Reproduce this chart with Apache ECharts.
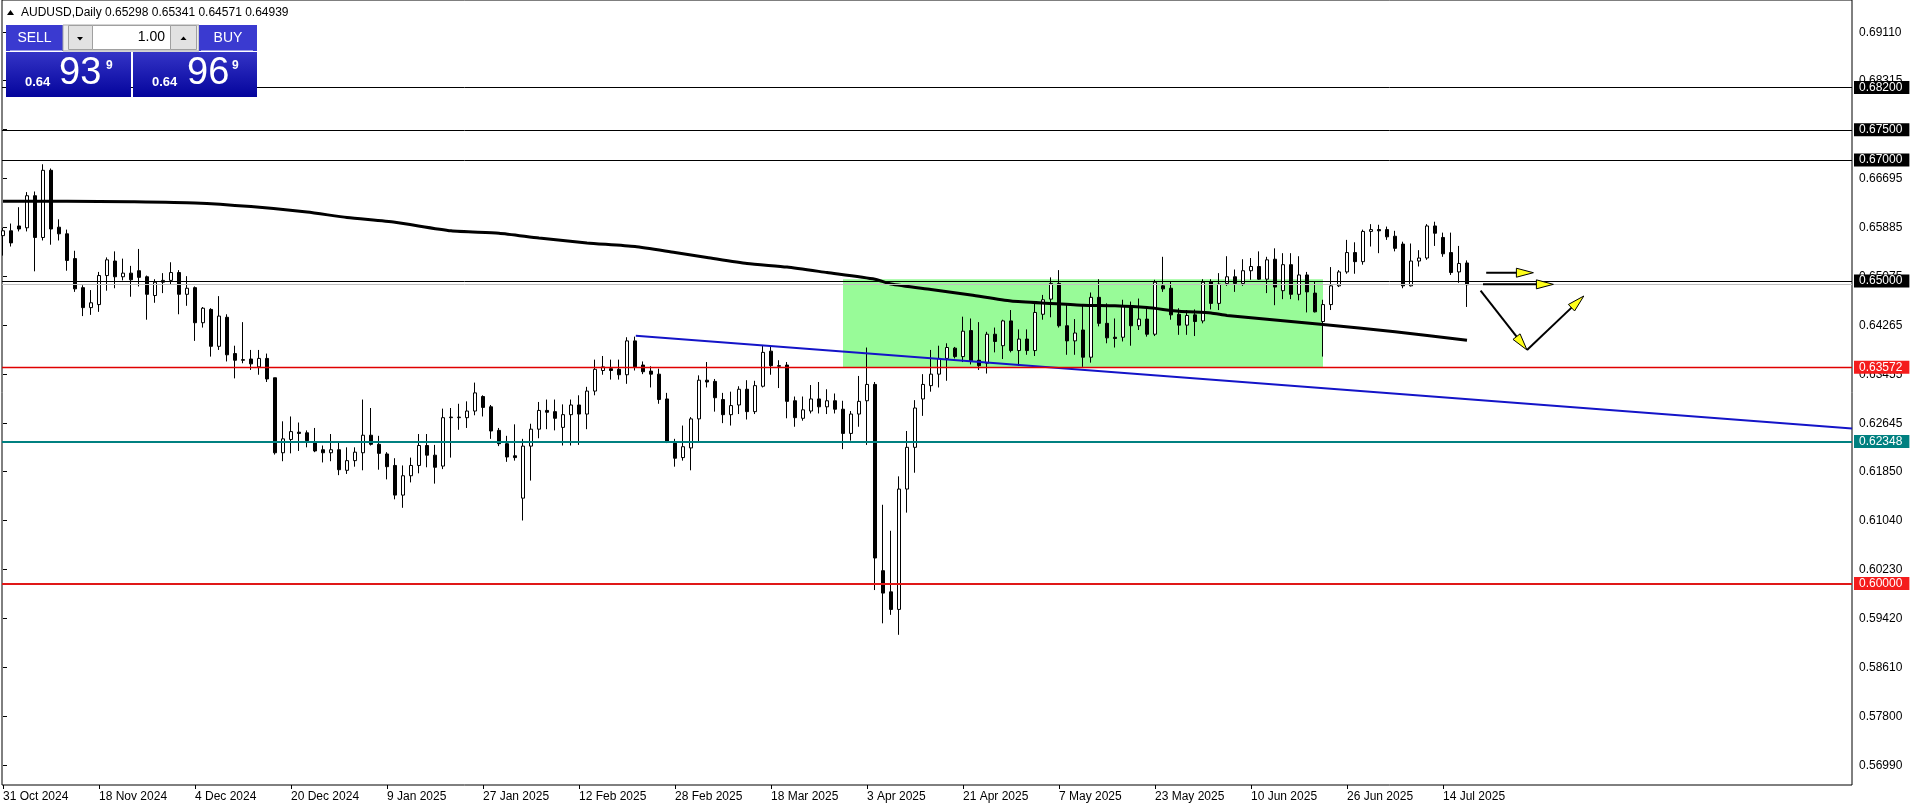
<!DOCTYPE html>
<html>
<head>
<meta charset="utf-8">
<script src="https://cdn.jsdelivr.net/npm/echarts@6/dist/echarts.min.js"></script>
<style>
html,body{margin:0;padding:0;background:#fff;}
#c{width:1916px;height:809px;}
</style>
</head>
<body>
<div id="c"></div>
<script>
// ---------------- DATA ----------------
const symbolName = 'AUDUSD';
const periodName = 'Daily';

const opens = [
0.6575,0.6583,0.6591,0.6588,0.6641,0.6572,0.6683,0.6589,0.6578,0.6537,
0.6489,0.6456,0.6461,0.6509,0.6533,0.6507,0.6513,0.6517,0.6507,0.6476,
0.6498,0.6501,0.6514,0.6478,0.6489,0.6431,0.6453,0.6392,0.6440,0.6380,
0.6370,0.6371,0.6358,0.6372,0.6340,0.6216,0.6238,0.6250,0.6249,0.6233,
0.6221,0.6216,0.6221,0.6187,0.6203,0.6216,0.6245,0.6230,0.6214,0.6195,
0.6146,0.6178,0.6195,0.6228,0.6212,0.6194,0.6274,0.6274,0.6274,0.6285,
0.6309,0.6292,0.6253,0.6231,0.6211,0.6141,0.6227,0.6255,0.6286,0.6284,
0.6258,0.6279,0.6295,0.6280,0.6318,0.6352,0.6355,0.6354,0.6345,0.6401,
0.6361,0.6351,0.6346,0.6305,0.6232,0.6208,0.6224,0.6272,0.6336,0.6334,
0.6304,0.6279,0.6295,0.6321,0.6284,0.6326,0.6384,0.6360,0.6361,0.6302,
0.6273,0.6285,0.6305,0.6292,0.6302,0.6288,0.6248,0.6280,0.6302,0.6329,
0.6021,0.5986,0.5957,0.6156,0.6225,0.6305,0.6327,0.6346,0.6372,0.6389,
0.6375,0.6418,0.6369,0.6364,0.6412,0.6393,0.6434,0.6385,0.6404,0.6385,
0.6445,0.6470,0.6496,0.6426,0.6401,0.6419,0.6374,0.6473,0.6430,0.6407,
0.6407,0.6459,0.6426,0.6437,0.6412,0.6492,0.6488,0.6445,0.6427,0.6444,
0.6434,0.6499,0.6463,0.6496,0.6507,0.6496,0.6517,0.6524,0.6503,0.6536,
0.6484,0.6527,0.6478,0.6510,0.6480,0.6433,0.6461,0.6492,0.6515,0.6547,
0.6532,0.6582,0.6585,0.6585,0.6574,0.6561,0.6492,0.6533,0.6538,0.6591,
0.6572,0.6547,0.6515,0.65298];
const closes = [
0.6583,0.6563,0.6586,0.6641,0.6572,0.6683,0.6586,0.6578,0.6534,0.6487,
0.6456,0.6464,0.6509,0.6535,0.6507,0.6513,0.6502,0.6506,0.6478,0.6498,
0.6501,0.6514,0.6478,0.6488,0.6431,0.6455,0.6392,0.6442,0.6378,0.6369,
0.6369,0.6363,0.6372,0.6338,0.6216,0.6239,0.6251,0.6248,0.6236,0.6219,
0.6216,0.6221,0.6188,0.6203,0.6217,0.6245,0.6230,0.6215,0.6193,0.6146,
0.6178,0.6195,0.6228,0.6212,0.6192,0.6274,0.6275,0.6275,0.6285,0.6315,
0.6291,0.6252,0.6231,0.6209,0.6208,0.6227,0.6255,0.6286,0.6283,0.6273,
0.6279,0.6295,0.6280,0.6318,0.6354,0.6358,0.6352,0.6345,0.6401,0.6358,
0.6350,0.6346,0.6304,0.6235,0.6207,0.6226,0.6272,0.6336,0.6333,0.6307,
0.6279,0.6294,0.6321,0.6284,0.6327,0.6382,0.6360,0.6359,0.6301,0.6274,
0.6287,0.6305,0.6292,0.6302,0.6288,0.6248,0.6280,0.6301,0.6329,0.6042,
0.5984,0.5957,0.6156,0.6225,0.6290,0.6329,0.6346,0.6372,0.6390,0.6375,
0.6417,0.6368,0.6360,0.6412,0.6400,0.6434,0.6385,0.6404,0.6385,0.6448,
0.6469,0.6496,0.6426,0.6401,0.6414,0.6374,0.6473,0.6430,0.6406,0.6405,
0.6459,0.6426,0.6437,0.6412,0.6498,0.6487,0.6444,0.6427,0.6443,0.6433,
0.6498,0.6463,0.6495,0.6507,0.6496,0.6517,0.6524,0.6503,0.6535,0.6490,
0.6527,0.6478,0.6510,0.6482,0.6449,0.6461,0.6492,0.6515,0.6547,0.6532,
0.6582,0.6585,0.6583,0.6573,0.6554,0.6492,0.6533,0.6538,0.6591,0.6579,
0.6545,0.6514,0.6529,0.64939];
const lows = [
0.6542,0.6557,0.6582,0.6582,0.6516,0.6567,0.6560,0.6567,0.6517,0.6482,
0.6442,0.6444,0.6449,0.6484,0.6488,0.6501,0.6474,0.6491,0.6436,0.6464,
0.6480,0.6495,0.6445,0.6459,0.6401,0.6423,0.6375,0.6386,0.6367,0.6339,
0.6364,0.6353,0.6345,0.6333,0.6213,0.6202,0.6215,0.6219,0.6225,0.6217,
0.6200,0.6202,0.6179,0.6181,0.6193,0.6187,0.6228,0.6188,0.6172,0.6139,
0.6125,0.6167,0.6182,0.6192,0.6165,0.6189,0.6208,0.6254,0.6257,0.6278,
0.6276,0.6239,0.6227,0.6201,0.6203,0.6104,0.6170,0.6240,0.6255,0.6253,
0.6228,0.6228,0.6229,0.6255,0.6311,0.6345,0.6337,0.6337,0.6330,0.6352,
0.6346,0.6324,0.6297,0.6232,0.6193,0.6203,0.6187,0.6235,0.6324,0.6284,
0.6265,0.6261,0.6280,0.6271,0.6280,0.6324,0.6345,0.6323,0.6273,0.6259,
0.6269,0.6281,0.6281,0.6280,0.6281,0.6222,0.6236,0.6259,0.6229,0.5989,
0.5934,0.5948,0.5915,0.6117,0.6183,0.6277,0.6317,0.6324,0.6335,0.6372,
0.6366,0.6362,0.6353,0.6347,0.6382,0.6371,0.6382,0.6360,0.6378,0.6376,
0.6436,0.6440,0.6423,0.6378,0.6378,0.6358,0.6365,0.6425,0.6397,0.6390,
0.6400,0.6393,0.6419,0.6408,0.6409,0.6482,0.6436,0.6411,0.6411,0.6409,
0.6430,0.6453,0.6452,0.6492,0.6482,0.6492,0.6502,0.6502,0.6480,0.6460,
0.6470,0.6470,0.6468,0.6448,0.6448,0.6375,0.6452,0.6490,0.6512,0.6512,
0.6527,0.6557,0.6546,0.6568,0.6549,0.6488,0.6491,0.6524,0.6535,0.6558,
0.6540,0.6510,0.6497,0.64571];
const highs = [
0.6588,0.6595,0.6622,0.6647,0.6648,0.6693,0.6686,0.6602,0.6585,0.6550,
0.6493,0.6485,0.6515,0.6539,0.6549,0.6537,0.6525,0.6553,0.6509,0.6503,
0.6513,0.6531,0.6518,0.6508,0.6491,0.6457,0.6455,0.6475,0.6445,0.6393,
0.6432,0.6386,0.6386,0.6380,0.6340,0.6268,0.6276,0.6266,0.6253,0.6257,
0.6228,0.6247,0.6233,0.6225,0.6225,0.6304,0.6290,0.6244,0.6217,0.6207,
0.6195,0.6208,0.6247,0.6247,0.6229,0.6289,0.6290,0.6297,0.6301,0.6332,
0.6311,0.6295,0.6257,0.6244,0.6263,0.6239,0.6264,0.6300,0.6304,0.6304,
0.6296,0.6304,0.6311,0.6325,0.6370,0.6376,0.6370,0.6370,0.6407,0.6408,
0.6367,0.6359,0.6355,0.6315,0.6239,0.6261,0.6275,0.6344,0.6366,0.6338,
0.6315,0.6317,0.6326,0.6336,0.6335,0.6393,0.6393,0.6369,0.6366,0.6309,
0.6309,0.6328,0.6333,0.6321,0.6314,0.6302,0.6285,0.6343,0.6390,0.6333,
0.6130,0.6087,0.6177,0.6252,0.6303,0.6346,0.6386,0.6393,0.6397,0.6391,
0.6441,0.6438,0.6432,0.6416,0.6423,0.6436,0.6452,0.6420,0.6420,0.6464,
0.6477,0.6506,0.6518,0.6463,0.6437,0.6460,0.6481,0.6503,0.6463,0.6438,
0.6469,0.6466,0.6471,0.6458,0.6502,0.6540,0.6499,0.6455,0.6452,0.6453,
0.6503,0.6503,0.6513,0.6541,0.6519,0.6536,0.6538,0.6549,0.6540,0.6554,
0.6546,0.6546,0.6541,0.6515,0.6499,0.6469,0.6523,0.6518,0.6568,0.6564,
0.6585,0.6594,0.6593,0.6590,0.6583,0.6565,0.6562,0.6551,0.6594,0.6598,
0.6580,0.6580,0.6558,0.65341];

// moving average, read at sampled bars
const maBars   = [0,8,16,24,31,38,43,49,56,62,67,73,79,84,88,93,98,103,109,111,116,121,126,131,135,139,143,147,151,153,165,174,183];
const maValues = [0.6632,0.6632,0.6631,0.6629,0.6623,0.6614,0.6605,0.6597,0.6583,0.6579,0.6571,0.6563,0.6557,0.6547,0.6539,0.6529,0.6523,0.6514,0.6503,0.6495,0.6486,0.6477,0.6467,0.6463,0.6460,0.6459,0.6456,0.6450,0.6447,0.6443,0.6428,0.6416,0.6402];

// x axis date labels (bar index -> label)
const dateTickBars = [0,12,24,36,48,60,72,84,96,108,120,132,144,156,168,180];
const dateTickLabels = ['31 Oct 2024','18 Nov 2024','4 Dec 2024','20 Dec 2024','9 Jan 2025','27 Jan 2025','12 Feb 2025','28 Feb 2025','18 Mar 2025','3 Apr 2025','21 Apr 2025','7 May 2025','23 May 2025','10 Jun 2025','26 Jun 2025','14 Jul 2025'];

// price axis labels
const priceTicks = [0.69110,0.68315,0.67505,0.66695,0.65885,0.65075,0.64265,0.63455,0.62645,0.61850,0.61040,0.60230,0.59420,0.58610,0.57800,0.56990];

// horizontal level lines
const levelPrices = [0.68200,0.67500,0.67000,0.65000,0.63572,0.62348,0.60000];
const bidPrice = 0.64939;
const askPrice = 0.64969;

// trendline (bar, price) and zone
const trendStart = [79.1, 0.64096];
const trendEnd   = [231.125, 0.62560];
const zoneBars   = [105, 165];
const zonePrices = [0.65030, 0.63570];

// drawn arrows: [barFrom, priceFrom, barTo, priceTo]
const arrowSegments = [
  [185.4, 0.65137, 191.3, 0.65137],
  [185.0, 0.64945, 193.8, 0.64945],
  [184.7, 0.64840, 190.5, 0.63859],
  [190.5, 0.63859, 197.6, 0.64752]
];
const lotSize = '1.00';

// ---------------- STYLES ----------------
const FONT = '"Liberation Sans", Arial, sans-serif';
const levelStyles = [
  {color:'#000000', width:1, bg:'#000000'},
  {color:'#000000', width:1, bg:'#000000'},
  {color:'#000000', width:1, bg:'#000000'},
  {color:'#000000', width:1, bg:'#000000'},
  {color:'#e00000', width:1.3, bg:'#f41c1c'},
  {color:'#008080', width:2, bg:'#008080'},
  {color:'#e01818', width:2, bg:'#f41c1c'}
];

const candleData = opens.map((o, i) => [i, o, closes[i], lows[i], highs[i]]);
const maData = maBars.map((b, i) => [b, maValues[i]]);
const last = opens.length - 1;
const fmt5 = v => v.toFixed(5);
const headerText = symbolName + ',' + periodName + ' ' + fmt5(opens[last]) + ' ' + fmt5(highs[last]) + ' ' + fmt5(lows[last]) + ' ' + fmt5(closes[last]);
function splitPrice(p) {
  const s = fmt5(p);
  return [s.slice(0, 4), s.slice(4, 6), s.slice(6)];
}
const bidParts = splitPrice(bidPrice);
const askParts = splitPrice(askPrice);

const markLineData = [{
  yAxis: bidPrice,
  lineStyle: {color: '#c0c0c0', width: 1, type: 'solid'},
  label: {show: false}
}].concat(levelPrices.map((p, i) => ({
  yAxis: p,
  lineStyle: {color: levelStyles[i].color, width: levelStyles[i].width, type: 'solid'},
  label: {
    show: true, position: 'end', distance: 2,
    formatter: fmt5(p),
    color: '#ffffff', fontSize: 12, fontFamily: FONT,
    backgroundColor: levelStyles[i].bg,
    padding: [1, 7, 0, 5], lineHeight: 12
  }
})));

const chart = echarts.init(document.getElementById('c'), null, {renderer: 'canvas'});

const boxGrad = () => new echarts.graphic.LinearGradient(0, 0, 0, 1, [
  {offset: 0, color: '#3434c6'}, {offset: 1, color: '#04049c'}
]);
function txt(x, y, text, size, opts) {
  opts = opts || {};
  return {
    type: 'text', x: x, y: y, z: 101,
    style: {
      text: text, fill: opts.fill || '#ffffff',
      font: (opts.bold ? 'bold ' : '') + size + 'px ' + FONT,
      align: opts.align || 'left', textAlign: opts.align || 'left',
      verticalAlign: 'middle', textVerticalAlign: 'middle'
    }
  };
}

const graphics = [
  {type:'polygon', z:101, shape:{points:[[7,15],[10.5,10],[14,15]]}, style:{fill:'#000'}},
  txt(21, 13, headerText, 12, {fill:'#000'}),
  {type:'rect', z:100, shape:{x:6, y:25, width:57, height:26}, style:{fill:'#3a3ad0'}},
  {type:'line', z:101, shape:{x1:10, y1:50.5, x2:62, y2:50.5}, style:{stroke:'#9c9ce8', lineWidth:1}},
  txt(34.5, 38, 'SELL', 14, {align:'center'}),
  {type:'rect', z:100, shape:{x:63, y:25, width:136, height:26}, style:{fill:'#ececec', stroke:'#a8a8a8', lineWidth:1}},
  {type:'rect', z:100, shape:{x:68.5, y:25.5, width:24, height:24}, style:{fill:'#e2e2e2', stroke:'#a0a0a0', lineWidth:1}},
  {type:'polygon', z:101, shape:{points:[[77,37],[83,37],[80,40.5]]}, style:{fill:'#000'}},
  {type:'rect', z:100, shape:{x:92.5, y:25.5, width:78, height:24}, style:{fill:'#ffffff', stroke:'#a0a0a0', lineWidth:1}},
  txt(165, 37.5, lotSize, 14, {fill:'#000', align:'right'}),
  {type:'rect', z:100, shape:{x:170.5, y:25.5, width:26, height:24}, style:{fill:'#e2e2e2', stroke:'#a0a0a0', lineWidth:1}},
  {type:'polygon', z:101, shape:{points:[[180.5,40],[186.5,40],[183.5,36.5]]}, style:{fill:'#000'}},
  {type:'rect', z:100, shape:{x:199, y:25, width:58, height:26}, style:{fill:'#3a3ad0'}},
  {type:'line', z:101, shape:{x1:201, y1:50.5, x2:253, y2:50.5}, style:{stroke:'#9c9ce8', lineWidth:1}},
  txt(228, 38, 'BUY', 14, {align:'center'}),
  {type:'rect', z:100, shape:{x:6, y:52, width:125, height:45}, style:{fill:boxGrad()}},
  {type:'rect', z:100, shape:{x:133, y:52, width:124, height:45}, style:{fill:boxGrad()}},
  txt(25, 82, bidParts[0], 13, {bold:true}),
  txt(59, 74, bidParts[1], 38),
  txt(106, 66, bidParts[2], 12, {bold:true}),
  txt(152, 82, askParts[0], 13, {bold:true}),
  txt(187, 74, askParts[1], 38),
  txt(232, 66, askParts[2], 12, {bold:true})
];

const option = {
  animation: false,
  backgroundColor: '#ffffff',
  textStyle: {fontFamily: FONT},
  grid: {left: 2, right: 64, top: 0, bottom: 24, show: true, borderColor: '#000', borderWidth: 1, backgroundColor: 'transparent', outerBoundsMode: 'none', containLabel: false},
  xAxis: {
    type: 'value', min: -0.125, max: 231.125,
    splitLine: {show: false},
    axisLine: {show: false},
    axisTick: {show: true, customValues: dateTickBars, length: 4, lineStyle: {color: '#000'}},
    axisLabel: {
      customValues: dateTickBars,
      formatter: v => dateTickLabels[dateTickBars.indexOf(Math.round(v))] || '',
      align: 'left', verticalAlign: 'middle', margin: 12,
      fontSize: 12, fontFamily: FONT, color: '#000'
    }
  },
  yAxis: {
    type: 'value', position: 'right', min: 0.566667, max: 0.696462,
    splitLine: {show: false},
    axisLine: {show: false},
    axisTick: {show: true, customValues: priceTicks, length: 4, lineStyle: {color: '#000'}},
    axisLabel: {
      customValues: priceTicks, formatter: v => fmt5(v), margin: 7,
      fontSize: 12, fontFamily: FONT, color: '#000'
    }
  },
  graphic: graphics,
  series: [
    {
      type: 'candlestick', z: 2,
      data: candleData,
      encode: {x: 0, y: [1, 2, 3, 4]},
      barWidth: 4,
      itemStyle: {color: '#ffffff', color0: '#000000', borderColor: '#000000', borderColor0: '#000000', borderColorDoji: '#000000', borderWidth: 1},
      markArea: {
        silent: true, z: 1,
        itemStyle: {color: '#98FB98', opacity: 1},
        data: [[{coord: [zoneBars[0], zonePrices[0]]}, {coord: [zoneBars[1], zonePrices[1]]}]]
      },
      markLine: {
        silent: true, symbol: ['none', 'none'], animation: false, z: 5,
        precision: 5,
        data: markLineData
      }
    },
    {
      type: 'line', z: 3, data: maData, symbol: 'none', smooth: 0.2,
      lineStyle: {color: '#000000', width: 3}, silent: true
    },
    {
      type: 'line', z: 4, data: [trendStart, trendEnd], symbol: 'none',
      lineStyle: {color: '#1414c8', width: 2}, silent: true
    },
    {
      type: 'custom', z: 6, clip: false, silent: true,
      data: arrowSegments,
      encode: {x: [0, 2], y: [1, 3]},
      renderItem: (params, api) => {
        const a = api.coord([api.value(0), api.value(1)]);
        const b = api.coord([api.value(2), api.value(3)]);
        const dx = b[0] - a[0], dy = b[1] - a[1];
        const len = Math.hypot(dx, dy), ux = dx / len, uy = dy / len;
        const hl = 17, hw = 4.5;
        const bx = b[0] - ux * hl, by = b[1] - uy * hl;
        return {
          type: 'group',
          children: [
            {type: 'line', shape: {x1: a[0], y1: a[1], x2: bx + ux * 3, y2: by + uy * 3}, style: {stroke: '#000', lineWidth: 2}},
            {type: 'polygon', shape: {points: [[b[0], b[1]], [bx - uy * hw, by + ux * hw], [bx + uy * hw, by - ux * hw]]},
             style: {fill: '#ffff1a', stroke: '#000', lineWidth: 1}}
          ]
        };
      }
    }
  ]
};
chart.setOption(option);
</script>
</body>
</html>
